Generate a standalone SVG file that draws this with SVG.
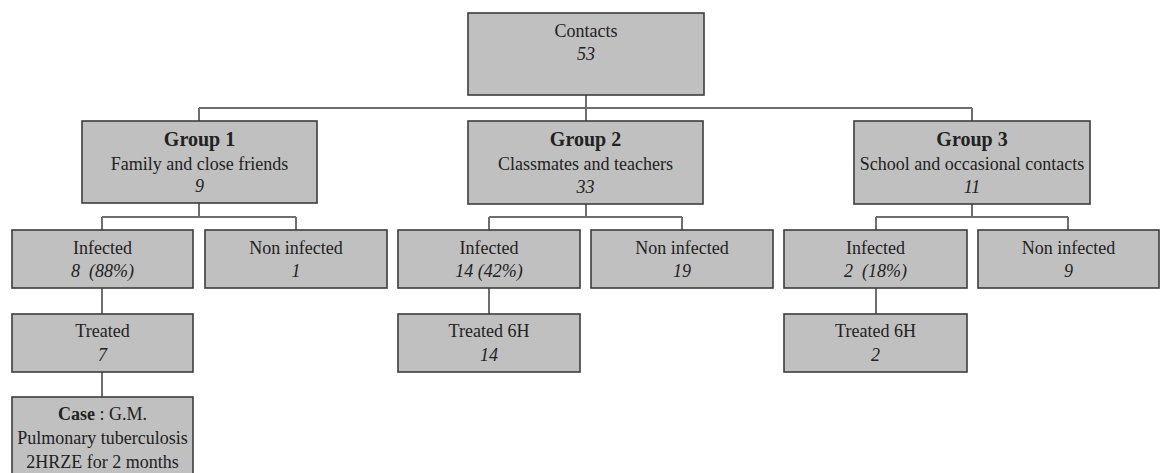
<svg xmlns="http://www.w3.org/2000/svg" width="1161" height="473" viewBox="0 0 1161 473">
<style>
.box{fill:#c0c0c0;stroke:#3c3c3c;stroke-width:1.6}
.c{fill:none;stroke:#6e6e6e;stroke-width:2}
text{font-family:"Liberation Serif","Times New Roman",serif;font-size:18px;fill:#222;text-anchor:middle}
.b{font-weight:bold;font-size:20px}
.i{font-style:italic}
</style>
<rect width="1161" height="473" fill="#fff"/>
<g id="connectors">
<path class="c" d="M586 95V108M199 108H972M199 108V121M586 108V121M972 108V121"/>
<path class="c" d="M199 203V217M102 217H296M102 217V230M296 217V230M102 288V314M102 372V397"/>
<path class="c" d="M586 204V217M489 217H682M489 217V230M682 217V230M489 288V314"/>
<path class="c" d="M972 204V217M876 217H1068M876 217V230M1068 217V230M876 288V314"/>
</g>
<g id="contacts"><rect class="box" x="468" y="13" width="236" height="82"/><text x="586" y="37">Contacts</text><text class="i" x="586" y="60">53</text></g>
<g id="group1"><rect class="box" x="82" y="121" width="235" height="82"/><text class="b" x="199.5" y="146">Group 1</text><text x="199.5" y="170">Family and close friends</text><text class="i" x="199.5" y="192">9</text></g>
<g id="group2"><rect class="box" x="468" y="121" width="235" height="83"/><text class="b" x="585.5" y="146">Group 2</text><text x="585.5" y="170">Classmates and teachers</text><text class="i" x="585.5" y="193">33</text></g>
<g id="group3"><rect class="box" x="854" y="121" width="236" height="83"/><text class="b" x="972" y="146">Group 3</text><text x="972" y="170">School and occasional contacts</text><text class="i" x="972" y="193">11</text></g>
<g id="g1-infected"><rect class="box" x="12" y="230" width="181" height="58"/><text x="102.5" y="254">Infected</text><text class="i" x="102.5" y="277" xml:space="preserve">8  (88%)</text></g>
<g id="g1-noninfected"><rect class="box" x="205" y="230" width="182" height="58"/><text x="296" y="254">Non infected</text><text class="i" x="296" y="277">1</text></g>
<g id="g1-treated"><rect class="box" x="12" y="314" width="181" height="58"/><text x="102.5" y="337">Treated</text><text class="i" x="102.5" y="361">7</text></g>
<g id="g1-case"><rect class="box" x="12" y="397" width="181" height="80"/><text x="102.5" y="420"><tspan font-weight="bold">Case</tspan> : G.M.</text><text x="102.5" y="444">Pulmonary tuberculosis</text><text x="102.5" y="468">2HRZE for 2 months</text></g>
<g id="g2-infected"><rect class="box" x="398" y="230" width="182" height="58"/><text x="489" y="254">Infected</text><text class="i" x="489" y="277">14 (42%)</text></g>
<g id="g2-noninfected"><rect class="box" x="591" y="230" width="182" height="58"/><text x="682" y="254">Non infected</text><text class="i" x="682" y="277">19</text></g>
<g id="g2-treated"><rect class="box" x="398" y="314" width="182" height="58"/><text x="489" y="337">Treated 6H</text><text class="i" x="489" y="361">14</text></g>
<g id="g3-infected"><rect class="box" x="784" y="230" width="183" height="58"/><text x="875.5" y="254">Infected</text><text class="i" x="875.5" y="277" xml:space="preserve">2  (18%)</text></g>
<g id="g3-noninfected"><rect class="box" x="978" y="230" width="181" height="58"/><text x="1068.5" y="254">Non infected</text><text class="i" x="1068.5" y="277">9</text></g>
<g id="g3-treated"><rect class="box" x="784" y="314" width="183" height="58"/><text x="875.5" y="337">Treated 6H</text><text class="i" x="875.5" y="361">2</text></g>
</svg>
